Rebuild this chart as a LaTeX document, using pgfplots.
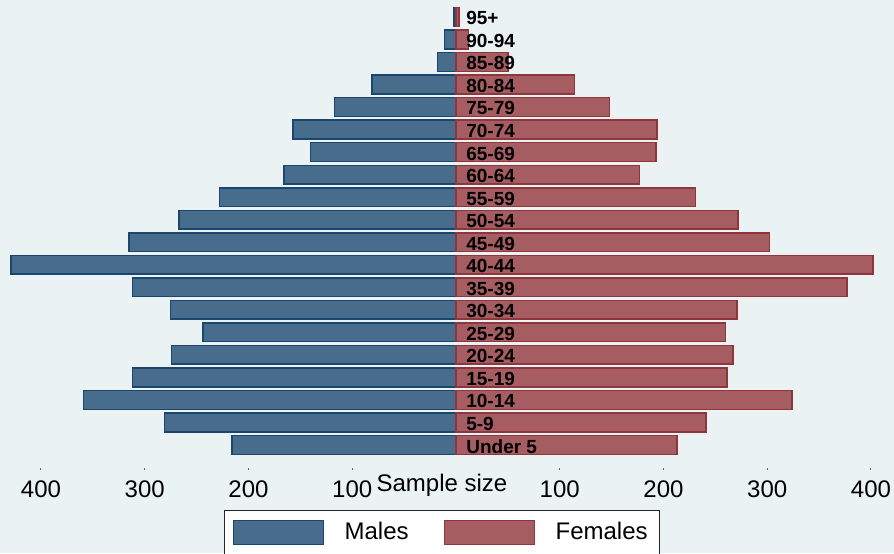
\documentclass[border=0pt]{standalone}
\usepackage{fontspec}
\setmainfont{Liberation Sans}
\usepackage{pgfplots}
\usepackage{pgfplotstable}
\pgfplotsset{compat=1.18}
\definecolor{bgcol}{RGB}{234,242,243}
\definecolor{mfill}{RGB}{72,108,140}
\definecolor{mdraw}{RGB}{26,71,111}
\definecolor{ffill}{RGB}{166,93,98}
\definecolor{fdraw}{RGB}{144,53,59}
\pgfplotstableread[col sep=comma]{
idx,label,male,female
0,Under 5,216,213
1,5-9,281,241
2,10-14,359,324
3,15-19,312,261
4,20-24,274,267
5,25-29,244,260
6,30-34,275,271
7,35-39,312,377
8,40-44,429,402
9,45-49,315,302
10,50-54,267,272
11,55-59,228,231
12,60-64,166,177
13,65-69,140,193
14,70-74,157,194
15,75-79,117,148
16,80-84,81,114
17,85-89,18,50
18,90-94,11,12
19,95+,2,3
}\pyramid
\begin{document}
\begin{tikzpicture}
\useasboundingbox (0,0) rectangle (447pt,276.5pt);
\clip (0,0) rectangle (447pt,276.5pt);
\fill[bgcol] (0,0) rectangle (447pt,276.5pt);
\begin{axis}[
  at={(0pt,42.5pt)}, anchor=south west,
  scale only axis, width=447pt, height=234pt,
  xmin=-439.5, xmax=422.2, ymin=-1.02, ymax=19.75,
  axis line style={draw=none},
  ytick=\empty,
  xtick={-400,-300,-200,-100,100,200,300,400},
  xticklabels={400,300,200,100,100,200,300,400},
  xtick pos=bottom, tick align=outside,
  major tick length=0.8pt,
  every tick/.style={black!60, line width=0.5pt},
  /pgf/number format/assume math mode=true,
  xticklabel style={anchor=base, yshift=-13.8pt, font=\fontsize{12}{14}\selectfont},
  legend columns=2,
  legend style={at={(rel axis cs:0.2506,-0.0897)}, anchor=north west,
    draw=black!85, fill=white, line width=0.6pt,
    inner xsep=4pt, inner ysep=4pt,
    font=\fontsize{12}{14}\selectfont,
    /tikz/every even column/.append style={column sep=15.5pt},
    /tikz/every odd column/.append style={column sep=8.5pt}},
  legend image code/.code={\draw[#1, line width=0.5pt] (0pt,-6pt) rectangle (45pt,6pt);},
  clip=false,
]
\addplot[xbar, bar width=0.83, bar shift=0pt, fill=mfill, draw=mdraw, line width=0.75pt]
  table[x expr=-\thisrow{male}, y=idx] {\pyramid};
\addlegendentry{Males}
\addplot[xbar, bar width=0.83, bar shift=0pt, fill=ffill, draw=fdraw, line width=0.75pt]
  table[x=female, y=idx] {\pyramid};
\addlegendentry{Females}
\addplot[draw=none, mark=none, forget plot, nodes near coords, point meta=explicit symbolic,
  nodes near coords style={anchor=west, inner sep=0pt, yshift=-0.7pt,
    font=\fontsize{9.5}{11}\selectfont\bfseries, text=black}]
  table[x expr=9.6, y=idx, meta=label] {\pyramid};
\node[anchor=base, yshift=-11.8pt, font=\fontsize{12}{14}\selectfont]
  at (rel axis cs:0.4944,0) {Sample size};
\end{axis}
\end{tikzpicture}
\end{document}
